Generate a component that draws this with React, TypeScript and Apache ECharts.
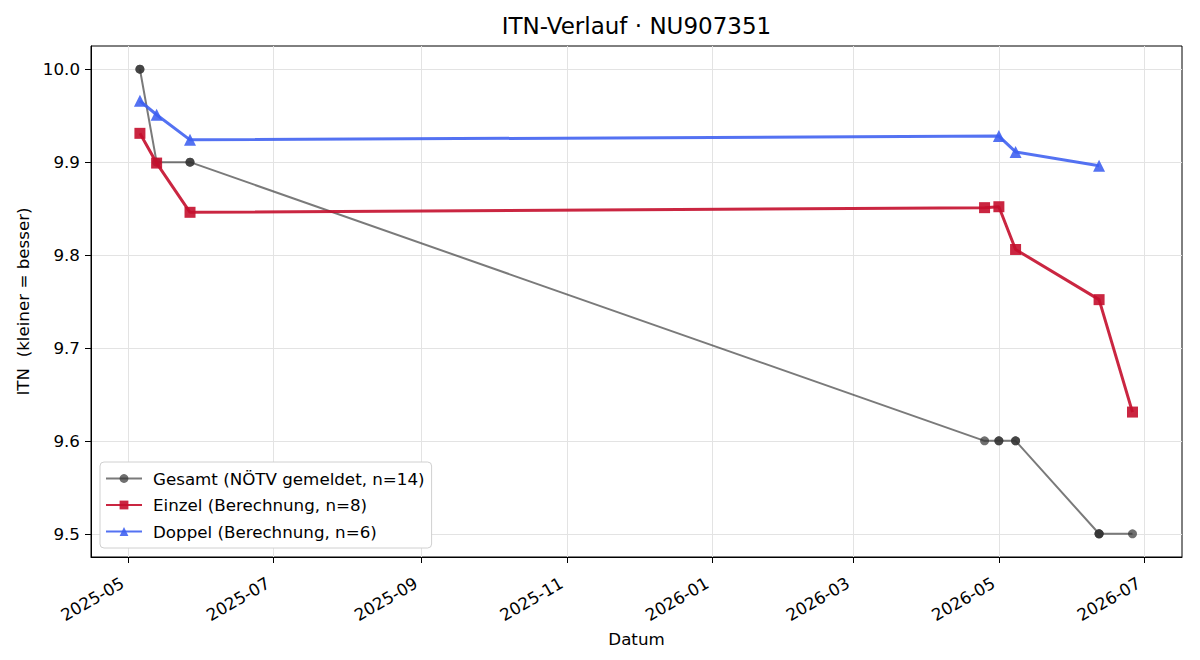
import React, { useEffect, useRef } from "react";
import * as echarts from "echarts";

// Gesamt (reported overall ITN), repeated dates are separate reports
const gesamtDates = [
  "2025-05-06", "2025-05-06", "2025-05-13", "2025-05-27", "2025-05-27",
  "2026-04-25", "2026-05-01", "2026-05-01", "2026-05-08", "2026-05-08",
  "2026-06-12", "2026-06-12", "2026-06-12", "2026-06-26",
];
const gesamtValues = [10.0, 10.0, 9.9, 9.9, 9.9, 9.6, 9.6, 9.6, 9.6, 9.6, 9.5, 9.5, 9.5, 9.5];

// Einzel (computed singles ITN)
const einzelDates = [
  "2025-05-06", "2025-05-13", "2025-05-27", "2026-04-25",
  "2026-05-01", "2026-05-08", "2026-06-12", "2026-06-26",
];
const einzelValues = [9.931, 9.899, 9.846, 9.851, 9.852, 9.806, 9.752, 9.631];

// Doppel (computed doubles ITN)
const doppelDates = [
  "2025-05-06", "2025-05-13", "2025-05-27", "2026-05-01", "2026-05-08", "2026-06-12",
];
const doppelValues = [9.966, 9.951, 9.924, 9.928, 9.911, 9.896];

const xTickDates = [
  "2025-05-01", "2025-07-01", "2025-09-01", "2025-11-01",
  "2026-01-01", "2026-03-01", "2026-05-01", "2026-07-01",
];
const yTicks = [9.5, 9.6, 9.7, 9.8, 9.9, 10.0];

const xMinDate = "2025-04-15T12:00:00";
const xMaxDate = "2026-07-16T18:00:00";
const yMin = 9.475;
const yMax = 10.025;

const FONT = "DejaVu Sans";

const ts = (s: string) => new Date(s.length > 10 ? s : s + "T00:00:00").getTime();
const pairs = (d: string[], v: number[]) => d.map((s, i) => [ts(s), v[i]]);
const pad2 = (n: number) => (n < 10 ? "0" + n : "" + n);

export default function App() {
  const ref = useRef<HTMLDivElement>(null);

  useEffect(() => {
    document.body.style.margin = "0";
    if (!ref.current) return;
    const chart = echarts.init(ref.current, null, { renderer: "svg" });

    chart.setOption({
      animation: false,
      backgroundColor: "#ffffff",
      textStyle: { fontFamily: FONT },
      title: {
        text: "ITN-Verlauf · NU907351",
        left: 636.5,
        textAlign: "center",
        top: 14,
        padding: 0,
        textStyle: { fontFamily: FONT, fontSize: 23, fontWeight: "normal", color: "#000" },
      },
      grid: {
        left: 91,
        right: 18,
        top: 46,
        bottom: 103,
        show: true,
        borderColor: "#000",
        borderWidth: 1,
        containLabel: false,
      },
      legend: {
        orient: "vertical",
        left: 100,
        top: 462,
        itemWidth: 36,
        itemHeight: 11,
        itemGap: 9.5,
        padding: [8, 7, 8, 5],
        backgroundColor: "#ffffff",
        borderColor: "#d0d0d0",
        borderWidth: 1,
        borderRadius: 4,
        textStyle: {
          fontFamily: FONT,
          fontSize: 16.7,
          lineHeight: 17,
          color: "#000",
          padding: [0, 0, 0, 6],
        },
        data: [
          "Gesamt (NÖTV gemeldet, n=14)",
          "Einzel (Berechnung, n=8)",
          "Doppel (Berechnung, n=6)",
        ],
      },
      xAxis: {
        // dates as millisecond timestamps on a linear axis, ticks at month starts
        type: "value",
        min: ts(xMinDate),
        max: ts(xMaxDate),
        name: "Datum",
        nameLocation: "middle",
        nameGap: 66,
        nameTextStyle: { fontFamily: FONT, fontSize: 16.7, color: "#000" },
        axisLine: { show: true, lineStyle: { color: "#000", width: 1 } },
        axisTick: {
          show: true,
          length: 6,
          lineStyle: { color: "#000" },
          customValues: xTickDates.map(ts),
        },
        axisLabel: {
          rotate: 30,
          margin: 22,
          padding: [0, 6, 0, 0],
          fontFamily: FONT,
          fontSize: 16.7,
          color: "#000",
          customValues: xTickDates.map(ts),
          formatter: (v: number) => {
            const d = new Date(v);
            return d.getFullYear() + "-" + pad2(d.getMonth() + 1);
          },
        },
        splitLine: { show: true, lineStyle: { color: "#e3e3e3", width: 1 } },
      },
      yAxis: {
        type: "value",
        min: yMin,
        max: yMax,
        name: "ITN  (kleiner = besser)",
        nameLocation: "middle",
        nameGap: 56,
        nameTextStyle: { fontFamily: FONT, fontSize: 16.7, color: "#000" },
        axisLine: { show: true, lineStyle: { color: "#000", width: 1 } },
        axisTick: {
          show: true,
          length: 6,
          lineStyle: { color: "#000" },
          customValues: yTicks,
        },
        axisLabel: {
          margin: 11,
          fontFamily: FONT,
          fontSize: 16.7,
          color: "#000",
          customValues: yTicks,
          formatter: (v: number) => v.toFixed(1),
        },
        splitLine: { show: true, lineStyle: { color: "#e3e3e3", width: 1 } },
      },
      series: [
        {
          name: "Gesamt (NÖTV gemeldet, n=14)",
          type: "line",
          data: pairs(gesamtDates, gesamtValues),
          symbol: "circle",
          symbolSize: 9,
          lineStyle: { color: "rgba(51,51,51,0.65)", width: 2 },
          itemStyle: { color: "rgba(51,51,51,0.7)" },
          z: 2,
        },
        {
          name: "Einzel (Berechnung, n=8)",
          type: "line",
          data: pairs(einzelDates, einzelValues),
          symbol: "rect",
          symbolSize: 11,
          lineStyle: { color: "rgba(196,14,44,0.9)", width: 3 },
          itemStyle: { color: "rgba(196,14,44,0.9)" },
          z: 3,
        },
        {
          name: "Doppel (Berechnung, n=6)",
          type: "line",
          data: pairs(doppelDates, doppelValues),
          symbol: "triangle",
          symbolSize: 12,
          lineStyle: { color: "rgba(60,95,240,0.88)", width: 3 },
          itemStyle: { color: "rgba(60,95,240,0.88)" },
          z: 4,
        },
      ],
    });

    return () => chart.dispose();
  }, []);

  return <div ref={ref} style={{ width: 1200, height: 660 }} />;
}
